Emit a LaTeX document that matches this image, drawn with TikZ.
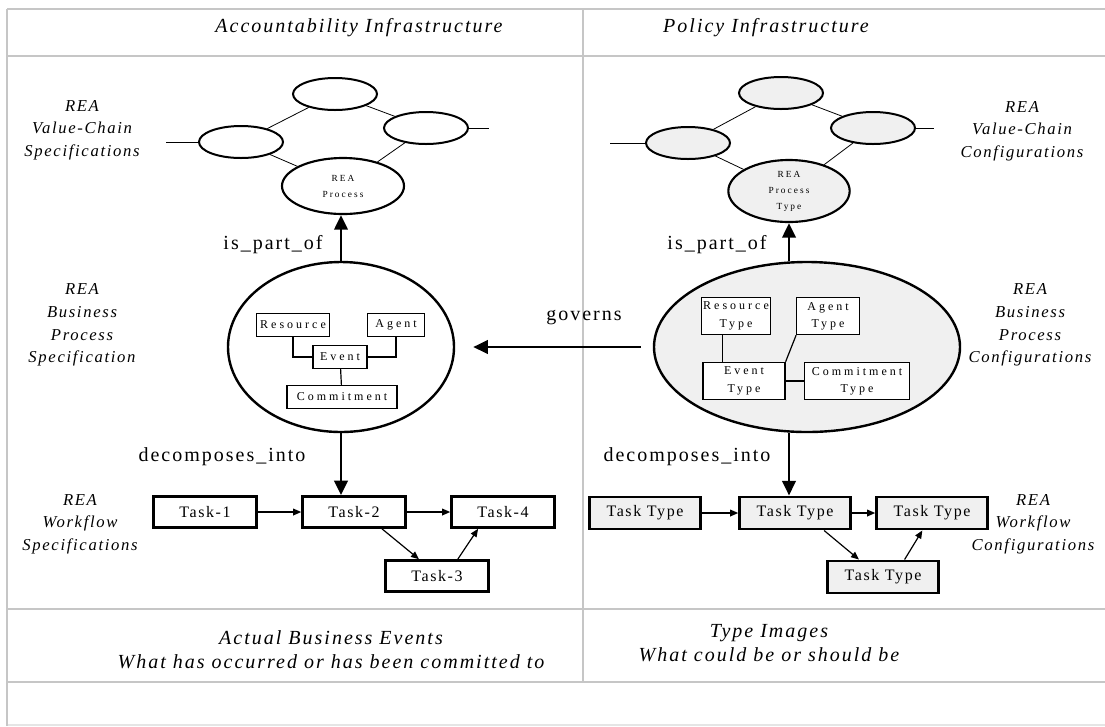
\documentclass[tikz,border=0pt]{standalone}
\usepackage{fontspec}
\setmainfont[LetterSpace=10]{Liberation Serif}
\usetikzlibrary{shapes.geometric,arrows.meta}

\newcommand{\lblfont}{\fontsize{15}{17}\selectfont}
\newcommand{\headfont}{\itshape\fontsize{15}{18}\selectfont}
\newcommand{\sidefont}{\itshape\fontsize{12.5}{17}\selectfont}
\newcommand{\taskfont}{\fontsize{12}{14}\selectfont}
\newcommand{\elemfont}{\addfontfeature{LetterSpace=25}\fontsize{9}{13}\selectfont}
\newcommand{\procfont}{\addfontfeature{LetterSpace=22}\fontsize{7}{12}\selectfont}

\tikzset{every picture/.style={line width=0.75pt},
  gridline/.style={draw=gray!45,line width=2pt},
  conf/.style={fill=gray!12},
  vc/.style={ellipse,draw,line width=1.5pt,minimum width=63pt,minimum height=24pt,inner sep=0pt},
  proc/.style={ellipse,draw,line width=1.6pt,inner sep=0pt,align=center,font=\procfont},
  bp/.style={ellipse,draw,line width=1.8pt,inner sep=0pt},
  elem/.style={draw,fill=white,line width=0.9pt,inner sep=1pt,minimum height=17pt,align=center,font=\elemfont},
  elemtwo/.style={minimum height=28pt},
  task/.style={draw,line width=2.2pt,minimum width=77pt,minimum height=23pt,font=\taskfont},
  tasktype/.style={task,conf,minimum width=83pt,minimum height=24pt},
  head/.style={font=\headfont},
  side/.style={align=center,font=\sidefont},
  lbl/.style={font=\lblfont},
  bottom/.style={align=center,font=\itshape\fontsize{15}{18}\selectfont},
  chain/.style={line width=0.6pt},
  elemline/.style={line width=0.9pt},
  bigarrow/.style={line width=2.2pt,-{Triangle[length=11pt,width=10pt]}},
  smallarrow/.style={line width=0.9pt,-{Triangle[length=6pt,width=5pt]}}}

\begin{document}
\begin{tikzpicture}[x=0.75pt,y=0.75pt,yscale=-1,xscale=1]
\useasboundingbox (0,0) rectangle (1105,726);

%Table lines
\draw[gridline,line width=1.2pt] (7,9) -- (1105,9);
\draw[gridline] (7,56) -- (1105,56);
\draw[gridline] (7,609) -- (1105,609);
\draw[gridline] (7,682) -- (1105,682);
\draw[gridline,draw=gray!20,line width=1pt] (7,725) -- (1105,725);
\draw[gridline,line width=1.5pt] (7,9) -- (7,726);
\draw[gridline] (583,9) -- (583,682);

% Text Node
\node[head] (acc) at (359,28) {Accountability Infrastructure};
% Text Node
\node[head] (pol) at (766,28) {Policy Infrastructure};

%Value chain, left
\node[vc] (vtopl) at (335,94) {};
\node[vc] (vrightl) at (426,128) {};
\node[vc] (vleftl) at (241,142) {};
\node[proc,minimum width=91.5pt,minimum height=42pt] (procl) at (343,186) {REA\\Process};
\coordinate (inl) at (166,142);
\coordinate (outl) at (489,128);
\draw[chain] (vtopl) -- (vleftl);
\draw[chain] (vtopl) -- (vrightl);
\draw[chain] (vleftl) -- (procl);
\draw[chain] (vrightl) -- (procl);
\draw[chain] (inl) -- (vleftl.west);
\draw[chain] (vrightl.east) -- (outl);

%Value chain, right
\node[vc,conf] (vtopr) at (781,93) {};
\node[vc,conf] (vrightr) at (873,128) {};
\node[vc,conf] (vleftr) at (688,143) {};
\node[proc,conf,minimum width=91pt,minimum height=46.5pt] (ptype) at (789,191) {REA\\Process\\Type};
\coordinate (inr) at (610,143);
\coordinate (outr) at (934,128);
\draw[chain] (vtopr) -- (vleftr);
\draw[chain] (vtopr) -- (vrightr);
\draw[chain] (vleftr) -- (ptype);
\draw[chain] (vrightr) -- (ptype);
\draw[chain] (inr) -- (vleftr.west);
\draw[chain] (vrightr.east) -- (outr);

% Side labels
\node[side] (vcspec) at (82,130) {REA\\Value-Chain\\Specifications};
\node[side] (bpspec) at (82,325) {REA\\Business\\Process\\Specification};
\node[side] (wfspec) at (80,524) {REA\\Workflow\\Specifications};
\node[side] (vcconf) at (1022,131) {REA\\Value-Chain\\Configurations};
\node[side] (bpconf) at (1030,325) {REA\\Business\\Process\\Configurations};
\node[side] (wfconf) at (1033,524) {REA\\Workflow\\Configurations};

%Business process, left
\node[bp,minimum width=169.5pt,minimum height=127.5pt] (bpl) at (341,347) {};
\node[elem,minimum width=55pt] (res) at (293,325) {Resource};
\node[elem,minimum width=43pt] (ag) at (396,325) {Agent};
\node[elem,minimum width=40.5pt] (ev) at (340,357) {Event};
\node[elem,minimum width=82.5pt] (com) at (342,397) {Commitment};
\draw[elemline] (res.south) |- (ev.west);
\draw[elemline] (ag.south) |- (ev.east);
\draw[elemline] (ev) -- (com);

%Business process, right
\node[bp,conf,minimum width=229.5pt,minimum height=127.5pt] (bpr) at (807,347) {};
\node[elem,elemtwo,minimum width=50pt] (rtype) at (736,316) {Resource\\Type};
\node[elem,elemtwo,minimum width=47pt] (atype) at (828,316) {Agent\\Type};
\node[elem,elemtwo,minimum width=61.5pt] (etype) at (744,381) {Event\\Type};
\node[elem,elemtwo,minimum width=79pt] (ctype) at (857,381) {Commitment\\Type};
\draw[elemline] (rtype.235) -- (rtype.235 |- etype.north);
\draw[elemline] (atype.south west) -- (etype.north east);
\draw[elemline] (etype) -- (ctype);

% Text Node
\node[lbl] (partl) at (273,245) {is\_part\_of};
\node[lbl] (partr) at (717,245) {is\_part\_of};
\node[lbl] (gov) at (584,318) {governs};
\node[lbl] (decl) at (222,457) {decomposes\_into};
\node[lbl] (decr) at (687,457) {decomposes\_into};

%Workflow, left
\node[task] (t1) at (205,512) {Task-1};
\node[task] (t2) at (354,512) {Task-2};
\node[task] (t4) at (503,512) {Task-4};
\node[task] (t3) at (437,576) {Task-3};
\draw[smallarrow] (t1) -- (t2);
\draw[smallarrow] (t2) -- (t4);
\draw[smallarrow] (t2.-31) -- (t3.137);
\draw[smallarrow] (t3.39) -- (t4.214);

%Workflow, right
\node[tasktype] (rt1) at (645,513) {Task Type};
\node[tasktype] (rt2) at (795,513) {Task Type};
\node[tasktype] (rt4) at (932,513) {Task Type};
\node[tasktype] (rt3) at (883,577) {Task Type};
\draw[smallarrow] (rt1) -- (rt2);
\draw[smallarrow] (rt2) -- (rt4);
\draw[smallarrow] (rt2.-31) -- (rt3.144);
\draw[smallarrow] (rt3.39) -- (rt4.241);

%Big arrows
\draw[bigarrow] (bpl.north) -- (bpl.north |- procl.south);
\draw[bigarrow] (ptype.south |- bpr.north) -- (ptype.south);
\draw[bigarrow,shorten >=13.5pt,shorten <=9pt] (bpr.west) -- (bpl.east);
\draw[bigarrow] (bpl.south) -- (bpl.south |- t2.north);
\draw[bigarrow] (ptype.south |- bpr.south) -- (ptype.south |- rt2.north);

% Text Node
\node[bottom] (actual) at (331,650) {Actual Business Events\\What has occurred or has been committed to};
\node[bottom] (typeimg) at (769,643) {Type Images\\What could be or should be};

\end{tikzpicture}
\end{document}
